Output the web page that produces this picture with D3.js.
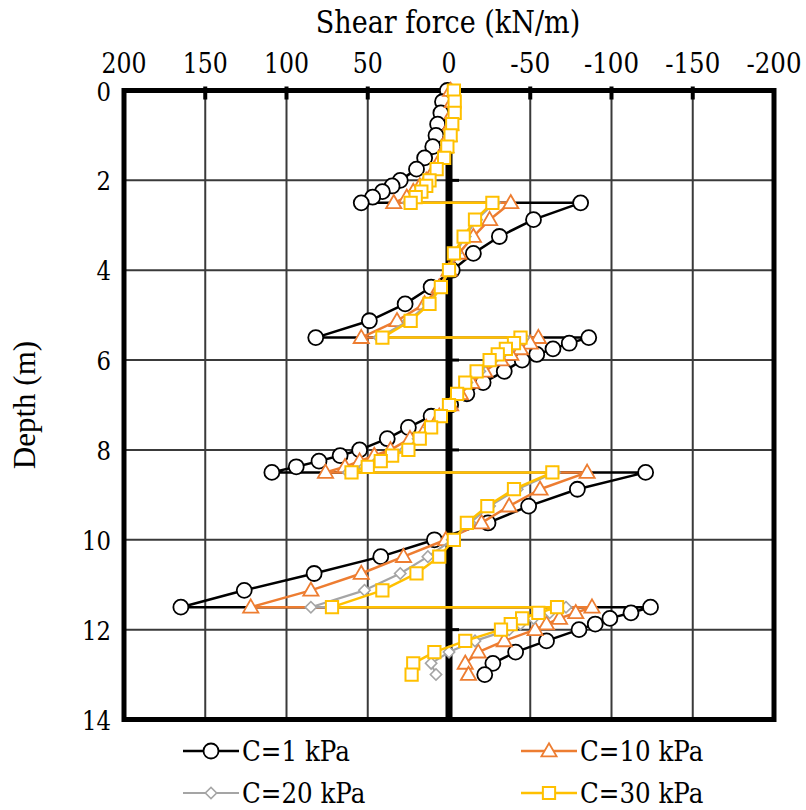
<!DOCTYPE html>
<html><head><meta charset="utf-8">
<script src="https://cdn.jsdelivr.net/npm/d3@7"></script>
<style>body{margin:0;background:#fff}</style>
</head><body>
<svg id="c" width="806" height="810"></svg>
<script>
// ---- data ----
const depths = [0,0.25,0.5,0.75,1,1.25,1.5,1.75,2,2.125,2.25,2.375,2.5,
  2.5,2.875,3.25,3.625,4,4.375,4.75,5.125,5.5,
  5.5,5.625,5.75,5.875,6,6.25,6.5,6.75,7,7.25,7.5,7.75,8,8.125,8.25,8.375,8.5,
  8.5,8.875,9.25,9.625,10,10.375,10.75,11.125,11.5,
  11.5,11.625,11.75,11.875,12,12.25,12.5,12.75,13];
const shearC1 = [1,4,5,7,8,10,15,20,30,35,41,47,54,
  -81,-52,-31,-15,-2,11,27,49,82,
  -86,-74,-64,-54,-45,-34,-21,-11,-1,11,25,38,55,67,80,94,109,
  -121,-79,-49,-24,9,42,83,126,165,
  -124,-112,-99,-90,-80,-60,-41,-27,-22];
const shearC10 = [-1,-2,-2,-1,0,2,5,9,14,18,22,26,34,
  -38,-25,-15,-6,0,6,15,32,54,
  -55,-50,-44,-38,-32,-22,-14,-7,-1,6,14,24,36,46,55,64,76,
  -85,-56,-37,-20,2,28,54,85,122,
  -88,-78,-68,-60,-53,-34,-18,-10,-12];
const shearC20 = [-2.5,-3,-3,-1.5,-0.5,1.5,3.5,8,12.5,15,18,21.5,25,
  -28,-17,-10,-4,0,5,13,25,43,
  -46,-42,-37,-32,-27,-19,-11,-5,0,5,12,19,27,36,44,52,62,
  -65,-42,-25,-13,-2,13,30,52,85,
  -72,-62,-52,-44,-37,-16,0,11,8];
const shearC30 = [-3,-3.5,-3.5,-2,-1,1,3,7.6,12,14,17,20.5,23.6,
  -26.7,-16,-9,-3,0,5,12,23.6,41,
  -44,-40,-35,-30,-25,-17,-10,-5,0,5,11,18,25,35,42,50,60,
  -63.6,-40,-23.6,-11,-3,6,20,41,72,
  -66.5,-55,-45,-38,-32,-10,9,22,23];
const seriesNames = ["C=1 kPa","C=10 kPa","C=20 kPa","C=30 kPa"];
const xTicks = [200,150,100,50,0,-50,-100,-150,-200];
const yTicks = [0,2,4,6,8,10,12,14];

// ---- drawing ----
const svg = d3.select("#c");
const x = d3.scaleLinear().domain([200,-200]).range([124,774]);
const y = d3.scaleLinear().domain([0,14]).range([90.5,719.5]);

// Times-like advance widths (em) used to fit the serif text to the reference widths
const EM = {'0':.5,'1':.5,'2':.5,'3':.5,'4':.5,'5':.5,'6':.5,'7':.5,'8':.5,'9':.5,'-':.333,
  'C':.667,'=':.564,' ':.25,'k':.5,'P':.556,'a':.444,'S':.556,'h':.5,'e':.444,'r':.333,
  'f':.333,'o':.5,'c':.444,'(':.333,')':.333,'N':.722,'/':.278,'m':.778};
function fitWidth(str, px) { let w = 0; for (const ch of str) w += (EM[ch] || .5); return w * px; }

function addText(parent, tx, ty, str, size, anchor, timesPx) {
  return parent.append("text")
    .attr("x", tx).attr("y", ty)
    .attr("text-anchor", anchor || "start")
    .style("font-family", "'DejaVu Serif', serif")
    .attr("font-size", size).attr("fill", "#000")
    .attr("textLength", fitWidth(str, timesPx).toFixed(1))
    .attr("lengthAdjust", "spacingAndGlyphs")
    .text(str);
}

const series = [
  {name:seriesNames[0], vals:shearC1, color:"#000000", sym:"circle", lw:2.5},
  {name:seriesNames[1], vals:shearC10, color:"#ED7D31", sym:"triangle", lw:2.5},
  {name:seriesNames[2], vals:shearC20, color:"#A5A5A5", sym:"diamond", lw:2.2},
  {name:seriesNames[3], vals:shearC30, color:"#FFC000", sym:"square", lw:2.5}
];

// grid
svg.append("g").selectAll("line").data(xTicks.slice(1,-1)).join("line")
  .attr("x1",d=>x(d)).attr("x2",d=>x(d)).attr("y1",y(0)).attr("y2",y(14))
  .attr("stroke","#3a3a3a").attr("stroke-width",2);
svg.append("g").selectAll("line").data(yTicks.slice(1,-1)).join("line")
  .attr("x1",x(200)).attr("x2",x(-200)).attr("y1",d=>y(d)).attr("y2",d=>y(d))
  .attr("stroke","#3a3a3a").attr("stroke-width",2);
// zero axis with ticks
svg.append("line").attr("x1",x(0)).attr("x2",x(0)).attr("y1",y(0)).attr("y2",y(14))
  .attr("stroke","#000").attr("stroke-width",7);
svg.append("g").selectAll("line").data(yTicks.slice(1,-1)).join("line")
  .attr("x1",x(0)).attr("x2",x(0)+10).attr("y1",d=>y(d)).attr("y2",d=>y(d))
  .attr("stroke","#000").attr("stroke-width",3);
// frame
svg.append("rect").attr("x",x(200)).attr("y",y(0))
  .attr("width",x(-200)-x(200)).attr("height",y(14)-y(0))
  .attr("fill","none").attr("stroke","#000").attr("stroke-width",5);
// top ticks
svg.append("g").selectAll("line").data(xTicks.slice(1,-1)).join("line")
  .attr("x1",d=>x(d)).attr("x2",d=>x(d)).attr("y1",y(0)-4).attr("y2",y(0)+9)
  .attr("stroke","#000").attr("stroke-width",4);

// tick labels
const gxl = svg.append("g");
xTicks.forEach(d => addText(gxl, x(d), 73, String(d), 27.5, "middle", 30));
const gyl = svg.append("g");
yTicks.forEach(d => addText(gyl, 111, y(d)+10, String(d), 26.5, "end", 29));

// titles
addText(svg, 448, 33, "Shear force (kN/m)", 31, "middle", 34);
svg.append("text").attr("transform","translate(35,405) rotate(-90)")
  .attr("text-anchor","middle").style("font-family","'Liberation Serif', serif")
  .attr("font-size",31).attr("fill","#000").text("Depth (m)");

function drawMarker(g, sym, color, cx, cy) {
  if (sym === "circle") {
    g.append("circle").attr("cx",cx).attr("cy",cy).attr("r",7.5)
      .attr("fill","#fff").attr("stroke",color).attr("stroke-width",1.8);
  } else if (sym === "triangle") {
    g.append("path").attr("d",d3.symbol(d3.symbolTriangle, 100)())
      .attr("transform",`translate(${cx},${cy+1})`)
      .attr("fill","#fff").attr("stroke",color).attr("stroke-width",1.8);
  } else if (sym === "diamond") {
    g.append("path").attr("d",d3.symbol(d3.symbolSquare, 64)())
      .attr("transform",`translate(${cx},${cy}) rotate(45)`)
      .attr("fill","#fff").attr("stroke",color).attr("stroke-width",1.6);
  } else {
    g.append("path").attr("d",d3.symbol(d3.symbolSquare, 150)())
      .attr("transform",`translate(${cx},${cy})`)
      .attr("fill","#fff").attr("stroke",color).attr("stroke-width",2);
  }
}

const line = d3.line().x(p=>x(p.v)).y(p=>y(p.d));
series.forEach(s => {
  const pts = depths.map((d,i)=>({d:d, v:s.vals[i]}));
  const g = svg.append("g");
  g.append("path").datum(pts).attr("d",line).attr("fill","none")
    .attr("stroke",s.color).attr("stroke-width",s.lw).attr("stroke-linejoin","round");
  pts.forEach(p => drawMarker(g, s.sym, s.color, x(p.v), y(p.d)));
});

// legend
const legendPos = [[183,751],[521,751],[183,793],[521,793]];
series.forEach((s,i) => {
  const [lx,ly] = legendPos[i];
  const g = svg.append("g");
  g.append("line").attr("x1",lx).attr("x2",lx+56).attr("y1",ly).attr("y2",ly)
    .attr("stroke",s.color).attr("stroke-width",s.lw);
  drawMarker(g, s.sym, s.color, lx+28, ly);
  addText(g, lx+59, ly+10, s.name, 28, "start", 31);
});
</script>
</body></html>
